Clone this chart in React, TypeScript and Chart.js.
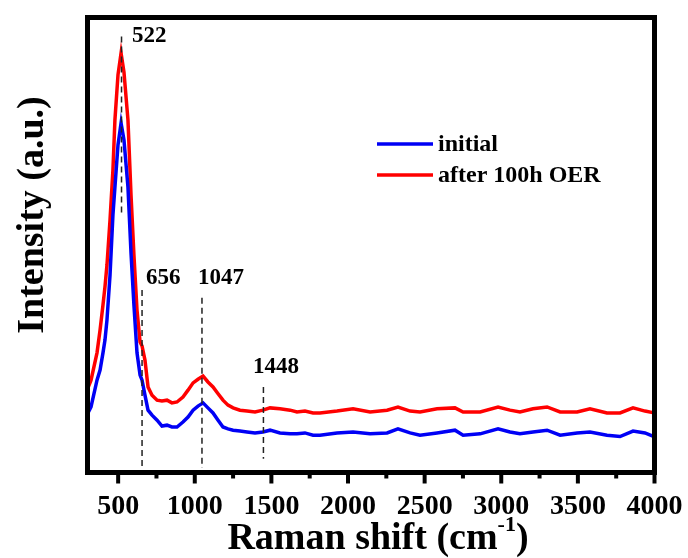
import React, { useEffect, useRef } from "react";
import { Chart, registerables } from "chart.js";

Chart.register(...registerables);

// Raman shift (cm^-1)
const ramanShift = [
  303, 323, 362, 382, 401, 414, 427, 447, 466, 479, 499, 519, 538, 564, 584, 603, 623, 643,
  656, 675, 695, 721, 754, 786, 819, 851, 884, 923, 956, 989, 1021, 1054,
  1086, 1119, 1152, 1184, 1217, 1250, 1295, 1341, 1393, 1445, 1491, 1556, 1622, 1667, 1719,
  1772, 1817, 1928, 2033, 2144, 2255, 2326, 2405, 2470, 2581, 2698, 2751, 2862, 2979, 3057,
  3122, 3207, 3299, 3384, 3495, 3579, 3690, 3775, 3860, 3938, 3997,
];

// Intensity (a.u.) – initial
const initialIntensity = [
  13.1, 14.4, 20.3, 22.5, 26.3, 29.1, 33.5, 43.4, 56.6, 62.7, 72.0, 76.8, 73.1, 62.7, 48.2, 36.8, 26.3, 21.4,
  20.3, 17.0, 13.7, 12.6, 11.5, 10.2, 10.4, 10.0, 10.0, 11.1, 12.2, 13.7, 14.6, 15.3,
  14.2, 13.1, 11.5, 10.0, 9.6, 9.3, 9.1, 8.9, 8.7, 8.9, 9.3, 8.7, 8.5, 8.5, 8.7,
  8.2, 8.2, 8.7, 8.9, 8.5, 8.7, 9.6, 8.7, 8.2, 8.7, 9.3, 8.2, 8.5, 9.6, 8.9,
  8.5, 8.9, 9.3, 8.2, 8.7, 8.9, 8.2, 7.9, 9.1, 8.7, 7.9,
];

// Intensity (a.u.) – after 100h OER
const afterOerIntensity = [
  18.6, 20.3, 26.3, 31.3, 36.8, 40.8, 45.6, 55.5, 66.5, 77.5, 87.4, 92.2, 88.0, 77.5, 61.0, 47.8, 35.7, 28.7,
  27.8, 24.7, 18.8, 17.0, 15.9, 15.7, 15.9, 15.3, 15.5, 16.6, 18.1, 19.7, 20.5, 21.2,
  19.9, 18.8, 17.3, 15.9, 14.8, 14.2, 13.7, 13.5, 13.3, 13.7, 14.2, 14.0, 13.7, 13.3, 13.5,
  13.1, 13.1, 13.5, 14.0, 13.3, 13.7, 14.4, 13.5, 13.3, 14.0, 14.2, 13.3, 13.3, 14.4, 13.7,
  13.3, 14.0, 14.4, 13.3, 13.3, 14.0, 13.1, 13.1, 14.2, 13.5, 13.1,
];

const seriesNames = ["initial", "after 100h OER"];
const xTickValues = [500, 1000, 1500, 2000, 2500, 3000, 3500, 4000];
const xMinorTickValues = [750, 1250, 1750, 2250, 2750, 3250, 3750];

// Peak markers
const peakLabels = ["522", "656", "1047", "1448"];
const peakPositions = [522, 656, 1047, 1448];
const peakLineTop = [95.8, 40.1, 38.4, 18.8];
const peakLineBottom = [57.0, 1.2, 1.0, 3.0];
const peakLabelX = [590, 682, 1021, 1380];
const peakLabelY = [95.9, 42.7, 42.7, 23.2];

const FONT = "'Liberation Serif', 'Times New Roman', serif";
const BLUE = "#0000f5";
const RED = "#ff0000";

const decorPlugin = {
  id: "decor",
  afterDatasetsDraw(chart: any) {
    const { ctx, chartArea, scales } = chart;
    const xs = scales.x;
    const ys = scales.y;
    ctx.save();
    // Peak dashed lines
    ctx.strokeStyle = "#222";
    ctx.lineWidth = 1.5;
    ctx.setLineDash([6, 4]);
    peakPositions.forEach((p, i) => {
      const x = xs.getPixelForValue(p);
      ctx.beginPath();
      ctx.moveTo(x, ys.getPixelForValue(peakLineTop[i]));
      ctx.lineTo(x, ys.getPixelForValue(peakLineBottom[i]));
      ctx.stroke();
    });
    ctx.setLineDash([]);
    // Peak labels
    ctx.fillStyle = "#000";
    ctx.font = `bold 23px ${FONT}`;
    ctx.textAlign = "left";
    ctx.textBaseline = "middle";
    peakLabels.forEach((t, i) => {
      ctx.fillText(t, xs.getPixelForValue(peakLabelX[i]), ys.getPixelForValue(peakLabelY[i]));
    });
    // Legend
    const colors = [BLUE, RED];
    const legY = [144, 175];
    ctx.font = `bold 24px ${FONT}`;
    seriesNames.forEach((name, i) => {
      ctx.strokeStyle = colors[i];
      ctx.lineWidth = 3.5;
      ctx.beginPath();
      ctx.moveTo(377, legY[i]);
      ctx.lineTo(433, legY[i]);
      ctx.stroke();
      ctx.fillStyle = "#000";
      ctx.fillText(name, 438, legY[i] + 1);
    });
    // Frame
    ctx.strokeStyle = "#000";
    ctx.lineWidth = 5;
    ctx.strokeRect(chartArea.left, chartArea.top, chartArea.right - chartArea.left, chartArea.bottom - chartArea.top);
    // Ticks
    ctx.lineWidth = 4;
    xTickValues.forEach((v) => {
      const x = xs.getPixelForValue(v);
      ctx.beginPath();
      ctx.moveTo(x, chartArea.bottom);
      ctx.lineTo(x, chartArea.bottom + 11);
      ctx.stroke();
    });
    xMinorTickValues.forEach((v) => {
      const x = xs.getPixelForValue(v);
      ctx.beginPath();
      ctx.moveTo(x, chartArea.bottom);
      ctx.lineTo(x, chartArea.bottom + 6);
      ctx.stroke();
    });
    // X axis title with superscript
    const big = `bold 38px ${FONT}`;
    const small = `bold 22px ${FONT}`;
    const p1 = "Raman shift (cm";
    const p2 = "-1";
    const p3 = ")";
    ctx.font = big;
    const w1 = ctx.measureText(p1).width;
    const w3 = ctx.measureText(p3).width;
    ctx.font = small;
    const w2 = ctx.measureText(p2).width;
    const total = w1 + w2 + w3;
    const cx = 378;
    const ty = 539;
    let sx = cx - total / 2;
    ctx.textAlign = "left";
    ctx.textBaseline = "middle";
    ctx.font = big;
    ctx.fillText(p1, sx, ty);
    sx += w1;
    ctx.font = small;
    ctx.fillText(p2, sx, ty - 14);
    sx += w2;
    ctx.font = big;
    ctx.fillText(p3, sx, ty);
    // Y axis title
    ctx.save();
    ctx.translate(33, 215);
    ctx.rotate(-Math.PI / 2);
    ctx.textAlign = "center";
    ctx.textBaseline = "middle";
    ctx.font = big;
    ctx.fillText("Intensity (a.u.)", 0, 0);
    ctx.restore();
    ctx.restore();
  },
};

export default function App() {
  const ref = useRef<HTMLCanvasElement>(null);
  useEffect(() => {
    if (!ref.current) return;
    const chart = new Chart(ref.current, {
      type: "line",
      data: {
        datasets: [
          {
            label: seriesNames[0],
            data: ramanShift.map((x, i) => ({ x, y: initialIntensity[i] })),
            borderColor: BLUE,
            borderWidth: 3.5,
            pointRadius: 0,
            tension: 0,
          },
          {
            label: seriesNames[1],
            data: ramanShift.map((x, i) => ({ x, y: afterOerIntensity[i] })),
            borderColor: RED,
            borderWidth: 3.5,
            pointRadius: 0,
            tension: 0,
          },
        ],
      },
      options: {
        animation: false,
        responsive: false,
        maintainAspectRatio: false,
        layout: { padding: { left: 87.5, right: 33.5, top: 17.5, bottom: 0 } },
        plugins: { legend: { display: false }, tooltip: { enabled: false }, title: { display: false } },
        scales: {
          x: {
            type: "linear",
            min: 300,
            max: 4000,
            position: "bottom",
            afterBuildTicks: (scale: any) => {
              scale.ticks = xTickValues.map((v) => ({ value: v }));
            },
            afterFit: (scale: any) => {
              scale.height = 85.5;
              scale.paddingLeft = 0;
              scale.paddingRight = 0;
            },
            grid: { display: false, drawTicks: false },
            border: { display: false },
            ticks: {
              color: "#000",
              padding: 17,
              maxRotation: 0,
              autoSkip: false,
              font: { family: FONT, size: 28, weight: "bold" },
              callback: (v: any) => String(v),
            },
          },
          y: {
            display: false,
            min: 0,
            max: 100,
          },
        },
      },
      plugins: [decorPlugin],
    });
    return () => chart.destroy();
  }, []);
  return (
    <div style={{ position: "absolute", left: 0, top: 0, width: 688, height: 558, background: "#fff" }}>
      <canvas ref={ref} width={688} height={558} />
    </div>
  );
}
